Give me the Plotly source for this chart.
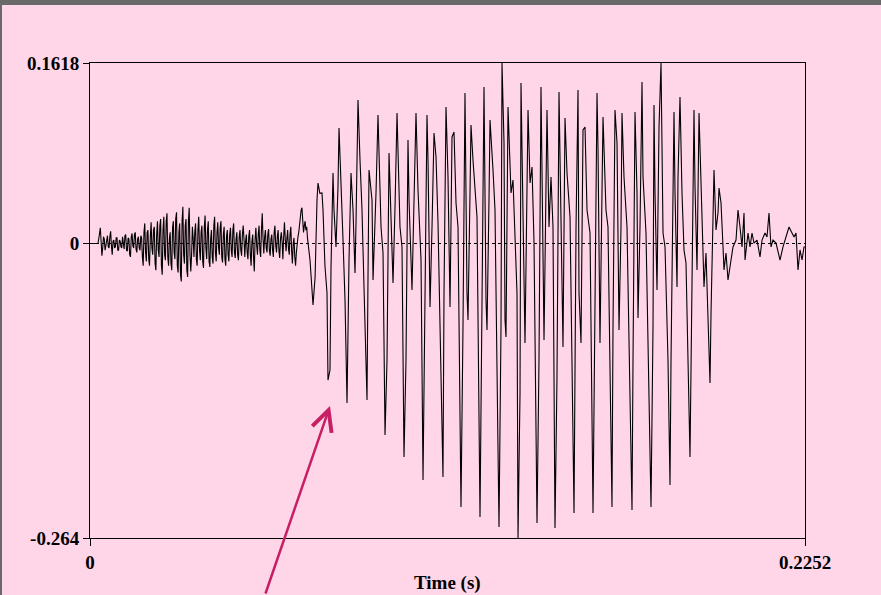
import plotly.graph_objects as go

# ---- data (time in ms, amplitude) ----
lead_t_ms = [0.0, 2.0]
lead_amp = [0.0, 0.0005]

# aperiodic (noise) part, sampled every 0.25 ms from 2.5 ms
noise_start_ms = 2.5
noise_step_ms = 0.25
noise_amp = [
    0.000, 0.004, 0.008, 0.014, 0.002, -0.011, -0.004, 0.006, 0.004, -0.006, -0.002, 0.004, 0.007, -0.003, -0.004,
    0.006, 0.011, -0.002, -0.010, 0.002, 0.003, -0.004, -0.003, 0.005, 0.005, -0.006, -0.006, 0.003, 0.002, -0.003,
    -0.004,
    0.006, -0.004, -0.005, 0.007, 0.008, -0.006, -0.007, 0.005, 0.004, -0.010, -0.012, 0.006, 0.009, -0.002, -0.004,
    0.008, 0.010, -0.005, -0.008, 0.004, 0.006, -0.004, -0.006, 0.007, 0.005, -0.012, -0.020, 0.010,
    0.018, -0.008, -0.016, 0.010, 0.012, -0.014, -0.020, 0.006, 0.019, -0.004, -0.010, 0.012, 0.015, -0.018, -0.024,
    0.008, 0.020, -0.006, -0.012, 0.016, 0.022, -0.020, -0.028, 0.012, 0.024, -0.010, -0.015, 0.020, 0.027, -0.012,
    -0.020, 0.004, 0.010, -0.018, -0.024, 0.014, 0.020, -0.008, -0.014, 0.022, 0.028, -0.020, -0.026, 0.010, 0.018,
    -0.028, -0.034, 0.020, 0.033, -0.010, -0.018, 0.016, 0.022, -0.024, -0.030, 0.020, 0.032, -0.010,
    -0.025, -0.010, 0.015, 0.004, -0.012, 0.010, 0.018, -0.014, -0.020, 0.012, 0.024, -0.006, -0.015, 0.010, 0.016,
    -0.016, -0.022, 0.014, 0.025, -0.004, -0.014, 0.012, 0.020, -0.016, -0.021, 0.004, 0.012, -0.012, -0.018, 0.016,
    0.024, -0.008, -0.016, 0.010, 0.019, -0.004, -0.010, 0.014, 0.020, -0.012, -0.017, 0.008, 0.015, -0.014, -0.020,
    0.006, 0.012, -0.010, -0.016, 0.008, 0.014, -0.006, -0.012, 0.012, 0.018, -0.008, -0.013, 0.004, 0.010, -0.010,
    -0.015, 0.006, 0.012, -0.006, -0.011, 0.008,
    0.016, 0.004, -0.012, 0.002, 0.008, -0.008, -0.014, 0.006, 0.012, -0.010, -0.020, 0.002, 0.008, -0.012, -0.025,
    0.004, 0.014, -0.002, -0.010, 0.008, 0.016, -0.006, -0.012, 0.012, 0.027, 0.004, -0.009, 0.006, 0.012, -0.004,
    -0.008, 0.008, 0.013, -0.006, -0.011, 0.004, 0.008, -0.006, -0.012, 0.010, 0.016, -0.002, -0.008, 0.006, 0.012,
    -0.006, -0.013, 0.004,
    0.010, 0.002, -0.014, 0.006, 0.019, 0.004, -0.007, 0.004, 0.012, -0.004, -0.010, 0.008, 0.015, -0.006, -0.018,
    0.000, 0.005, -0.012, -0.020, -0.008, 0.002, 0.006, 0.010, 0.018, 0.026, 0.030, 0.032, 0.018, 0.010, 0.016,
    0.020, 0.012, 0.015, 0.005,
]

# periodic (voiced) part, turning points
voiced_t_ms = [
    69.3, 70.24, 70.9, 71.50, 71.81, 72.4, 73.07, 73.39, 74.0, 74.65, 74.96, 75.59, 75.91, 76.54, 76.85, 77.48,
    78.11, 78.43, 79.37, 79.69, 80.32, 80.95, 81.58, 82.21, 82.84, 83.47, 83.78, 84.41, 85.04, 85.67, 86.30,
    87.25, 87.56, 87.88, 88.82, 89.14, 90.08, 90.71, 91.66, 92.29, 92.92, 93.55, 94.18, 94.81, 95.44, 96.07,
    96.70, 97.64, 98.27, 98.90, 99.53, 100.16, 100.48, 101.42, 102.05, 102.68, 103.31, 104.26, 104.89, 105.52,
    106.14, 106.46, 107.09, 107.72, 108.35, 108.98, 109.61, 111.18, 111.50, 112.13, 112.76, 113.39, 114.02,
    114.65, 115.28, 115.91, 116.85, 117.48, 118.11, 118.74, 119.06, 119.69, 120.00, 120.63, 121.89, 122.84,
    123.47, 124.10, 124.73, 125.04, 125.67, 125.99, 126.93, 127.56, 128.82, 129.45, 129.77, 130.40, 130.71,
    131.03, 131.66, 132.60, 133.23, 134.49, 134.81, 135.44, 135.75, 136.38, 137.01, 137.96, 138.59, 139.22,
    139.85, 140.79, 141.42, 142.05, 143.00, 143.94, 144.57, 145.20, 145.83, 146.46, 147.09, 147.72, 148.35,
    148.98, 149.61, 150.24, 151.19, 152.45, 153.08, 153.71, 154.02, 154.65, 155.28, 155.91, 156.54, 157.49,
    158.43, 159.06, 159.69, 160.00, 160.63, 161.26, 161.58, 162.52, 163.15, 164.41, 164.73, 165.36, 165.99,
    166.62, 167.25, 167.56, 168.19, 169.14, 170.71, 171.03, 171.66, 172.29, 172.60, 173.23, 173.86, 174.18,
    175.12, 176.70, 177.33, 177.64, 177.96, 178.59, 179.22, 179.85, 180.48, 181.11, 182.05, 182.68, 183.00,
    183.94, 184.26, 184.89, 185.20, 185.83, 186.46, 187.09, 187.72, 188.98, 189.30, 190.24, 190.56, 191.19,
    191.82, 192.45, 193.08, 193.39, 194.02, 194.65, 195.28, 195.60, 196.23, 196.54, 197.17, 197.80, 198.12,
    198.75, 199.38, 199.69, 200.32, 200.95, 201.90, 202.53, 203.47, 204.10, 204.73, 205.36, 205.99, 206.31,
    207.25, 207.88, 208.51, 209.14, 210.09, 211.03, 211.66, 212.60, 213.23, 213.86, 214.49, 215.12, 216.07,
    217.33, 218.27, 219.53, 220.16, 221.11, 221.74, 222.37, 223.00, 223.63, 224.26, 224.89, 225.20,
]
voiced_amp = [
    -0.015, -0.0551, -0.030, 0.039, 0.0542, 0.045, 0.0453, 0.0300, -0.020, -0.0444, -0.1224, -0.1134, -0.0211,
    0.0632, 0.0300, -0.0031,
    0.0506, 0.1035, 0.0390, 0.0031, -0.0506, -0.1430, -0.0148, 0.0632, 0.0300, -0.0264, 0.0184, 0.1286, 0.0748,
    0.0300, -0.0390,
    -0.1403, -0.0300, 0.0659, 0.0390, -0.0327, 0.0453, 0.1152, 0.0148, -0.0085, -0.1716, -0.1044, 0.0811, 0.0273,
    -0.0354, 0.0327,
    0.1170, 0.0148, -0.0031, -0.1914, -0.1044, 0.0928, 0.0390, -0.0417, 0.0390, 0.1170, 0.0480, -0.0148, -0.2120,
    -0.0444,
    0.1152, 0.0748, -0.0569, 0.0148, 0.0990, 0.0775, 0.0184, -0.2093, -0.0444, 0.1224, 0.0596, -0.0569, 0.0955,
    0.0999, 0.0363, 0.0148, -0.2362, -0.0748, 0.1349, -0.0444, -0.0686, 0.0453, 0.1062, 0.0748, 0.0238, -0.2452,
    -0.0748, 0.1403, -0.0506, -0.0775, 0.0390, 0.1107, 0.0659, 0.0300, -0.2542, -0.0748, 0.1618, 0.0901, -0.0686,
    -0.0838, 0.1224, 0.0453, 0.0569, -0.0444, -0.2640, -0.1340, 0.1439, 0.0363, -0.0892, 0.1197, 0.0542, 0.0686,
    0.0004, -0.2506, -0.1044, 0.1403, -0.0865, 0.1197, 0.0148, 0.0596, 0.0148, -0.2551, -0.1197, 0.1358, 0.0148,
    -0.0928, 0.1125, 0.0632, 0.0238, -0.2416, 0.0148, 0.1376, -0.0444, -0.0892, 0.1017, 0.1044, 0.0300, 0.0094,
    -0.2416, -0.0444, 0.1349, 0.0865, -0.0892, 0.0453, 0.1134, 0.0300, 0.0148, -0.2362, -0.0748, 0.1197, 0.0901,
    -0.0775, 0.0148, 0.1170, 0.0596, 0.0148, -0.2389, -0.1044, 0.1179, 0.0453, -0.0668, 0.0148, 0.1448, 0.0596,
    0.0094, -0.2362, -0.0748, 0.1242, 0.0453, -0.0417, 0.1044, 0.1618, 0.0094, -0.0031, -0.1044, -0.2165, -0.1044,
    0.1179, 0.0453, -0.0390, 0.0596, 0.1313, 0.0453, -0.0058, -0.0175, -0.1914, -0.1044, 0.1197, 0.0506, -0.0238,
    0.1170, 0.0596, -0.0085, -0.0390, -0.0085, -0.0748, -0.1251, -0.0623, 0.0506, 0.0659, 0.0121, 0.0273, 0.0497,
    0.0363, -0.0031, -0.0238, -0.0085, -0.0327, -0.0148, -0.0031, 0.0031, 0.0300, 0.0148, -0.0031, 0.0273, -0.0148,
    0.0094, -0.0031, 0.0094, 0.0004, 0.0031, -0.0121, 0.0031, 0.0094, 0.0058, 0.0273, -0.0031, 0.0031, 0.0004,
    -0.0148, -0.0031, 0.0094, 0.0148, 0.0094, 0.0058, 0.0094, -0.0238, -0.0058, -0.0148, -0.0031, -0.0031,
]

x_range = [0, 0.2252]
y_range = [-0.264, 0.1618]
x_tick_vals = [0, 0.2252]
x_tick_text = ["0", "0.2252"]
y_tick_vals = [-0.264, 0, 0.1618]
y_tick_text = ["-0.264", "0", "0.1618"]
x_title = "Time (s)"

# arrow target (data units)
arrow_t = 0.07559
arrow_amp = -0.1457

# ---- assemble waveform ----
noise_t_ms = [noise_start_ms + noise_step_ms * i for i in range(len(noise_amp))]
t_ms = lead_t_ms + noise_t_ms + voiced_t_ms
amp = lead_amp + noise_amp + voiced_amp
t_s = [v / 1000.0 for v in t_ms]

PINK = "rgb(255,214,232)"
GRAY = "#696969"
FONT = "Liberation Serif"

fig = go.Figure()
fig.add_trace(go.Scatter(x=t_s, y=amp, mode="lines",
                         line=dict(color="black", width=1.1), hoverinfo="skip"))

L, R, T, B = 90, 76, 63, 57
W, H = 881, 595
pw, ph = W - L - R, H - T - B

def px_to_paper_x(px):
    return (px - L) / pw

def py_to_paper_y(py):
    return (H - B - py) / ph

shapes = [
    # zero line
    dict(type="line", xref="x", yref="y", x0=x_range[0], x1=x_range[1], y0=0, y1=0,
         line=dict(color="black", width=1, dash="dot"), layer="below"),
    # window frame (top and left gray border)
    dict(type="rect", xref="paper", yref="paper",
         x0=px_to_paper_x(0), x1=px_to_paper_x(W), y0=py_to_paper_y(5), y1=py_to_paper_y(-2),
         fillcolor=GRAY, line=dict(width=0), layer="above"),
    dict(type="rect", xref="paper", yref="paper",
         x0=px_to_paper_x(-2), x1=px_to_paper_x(2), y0=py_to_paper_y(H + 2), y1=py_to_paper_y(-2),
         fillcolor=GRAY, line=dict(width=0), layer="above"),
]

fig.update_layout(
    width=W, height=H,
    margin=dict(l=L, r=R, t=T, b=B),
    paper_bgcolor=PINK, plot_bgcolor=PINK,
    showlegend=False,
    shapes=shapes,
    font=dict(family=FONT, size=19, color="black", weight="bold"),
    xaxis=dict(range=x_range, tickvals=x_tick_vals, ticktext=x_tick_text,
               showgrid=False, zeroline=False, showline=True, linecolor="black", linewidth=1,
               mirror=True, ticks="outside", ticklen=7, tickcolor="black", tickwidth=1,
               tickfont=dict(family=FONT, size=19, color="black", weight="bold")),
    yaxis=dict(range=y_range, tickvals=y_tick_vals, ticktext=y_tick_text,
               showgrid=False, zeroline=False, showline=True, linecolor="black", linewidth=1,
               mirror=True, ticks="outside", ticklen=6, tickcolor="black", tickwidth=1,
               tickfont=dict(family=FONT, size=19, color="black", weight="bold")),
    annotations=[
        dict(text=x_title, xref="paper", yref="paper", x=0.5, y=py_to_paper_y(583),
             xanchor="center", yanchor="middle", showarrow=False,
             font=dict(family=FONT, size=19, color="black", weight="bold")),
        dict(text="", x=arrow_t, y=arrow_amp, xref="x", yref="y",
             showarrow=True, ax=-65, ay=194, axref="pixel", ayref="pixel",
             arrowhead=5, arrowsize=1.6, arrowwidth=2.5, arrowcolor="rgb(200,30,100)"),
    ],
)

fig.write_html("out.html")
